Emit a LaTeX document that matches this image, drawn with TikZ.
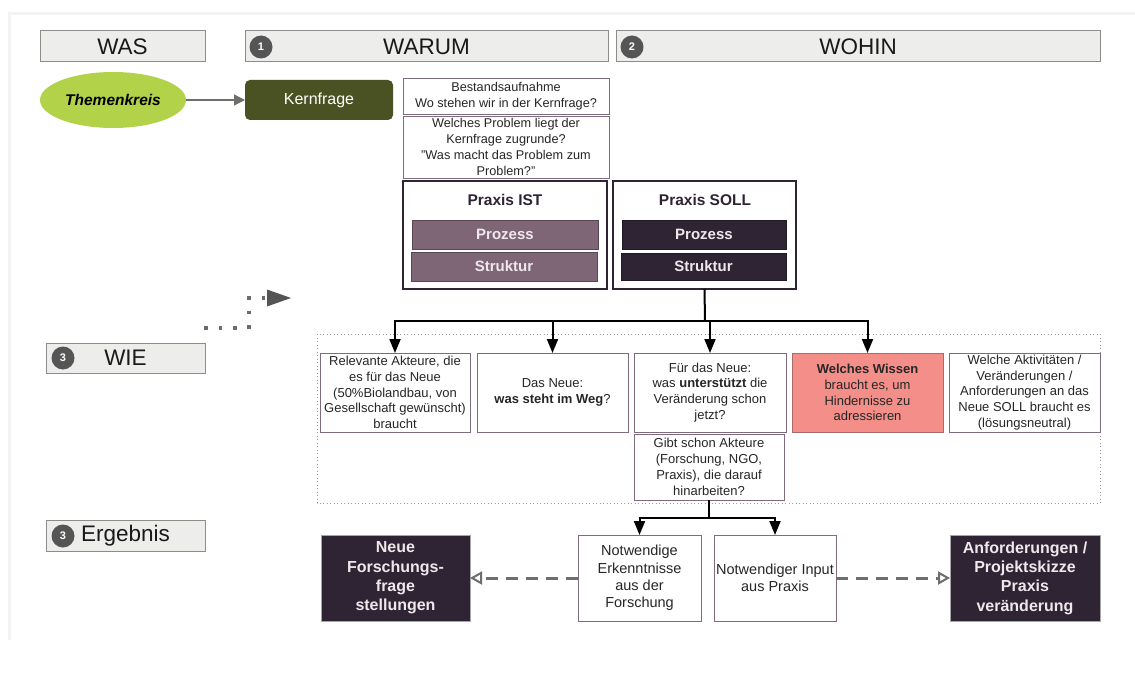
\documentclass[tikz,border=0pt]{standalone}
\usepackage{fontspec}
\setmainfont{Liberation Sans}
\usetikzlibrary{arrows.meta,shapes.geometric,calc}
\definecolor{hdrfill}{HTML}{EDEDEB}
\definecolor{hdrdraw}{HTML}{8C8C8A}
\definecolor{badge}{HTML}{555555}
\definecolor{lime}{HTML}{B2D24A}
\definecolor{olive}{HTML}{4A5224}
\definecolor{qdraw}{HTML}{7E6B7E}
\definecolor{dark}{HTML}{2F2433}
\definecolor{mauve}{HTML}{7F6677}
\definecolor{lighttext}{HTML}{EEE8EC}
\definecolor{redbox}{HTML}{F38E88}
\definecolor{reddraw}{HTML}{A86A6A}
\definecolor{dashgray}{HTML}{6E6E6A}
\definecolor{dotgray}{HTML}{9A9A9A}
\definecolor{faint}{HTML}{F3F3F3}
\newcommand\bx[7]{\node[#6, minimum width={(#4-#2)*1pt}, minimum height={(#5-#3)*1pt}] (#1) at ({(#2+#4)/2},{(#3+#5)/2}) {#7};}
\tikzset{
  every node/.style={inner sep=0pt, outer sep=0pt},
  hdr/.style={draw=hdrdraw, fill=hdrfill, line width=1pt, font=\fontsize{22.5}{26}\selectfont, text=black!90},
  badgestyle/.style={circle, fill=badge, minimum size=23pt, text=white, font=\fontsize{11}{12}\selectfont\bfseries},
  qbox/.style={draw=qdraw, fill=white, line width=0.9pt, align=center, font=\fontsize{12.7}{15.7}\selectfont, text=black!85},
  wbox/.style={draw=qdraw, fill=white, line width=0.9pt, align=center, font=\fontsize{13}{15.8}\selectfont, text=black!85},
  praxis/.style={draw=dark, fill=white, line width=2pt},
  ptitle/.style={font=\fontsize{15.5}{18}\selectfont\bfseries, text=dark},
  istbar/.style={fill=mauve, draw=mauve!70!black, line width=0.6pt, text=lighttext, font=\fontsize{15}{18}\selectfont\bfseries},
  sollbar/.style={fill=dark, draw=dark!70!black, line width=0.6pt, text=lighttext, font=\fontsize{15}{18}\selectfont\bfseries},
  darkbox/.style={fill=dark, draw=gray!70, line width=0.8pt, align=center, text=lighttext, font=\fontsize{16}{19.3}\selectfont\bfseries},
  nbox/.style={draw=qdraw, fill=white, line width=0.9pt, align=center, font=\fontsize{14.5}{17.3}\selectfont, text=black!85},
  arr/.style={line width=2pt, draw=black, -{Triangle[width=11pt,length=14pt]}},
  plain/.style={line width=2pt, draw=black},
  dasharr/.style={line width=3pt, draw=dashgray, dash pattern=on 12pt off 8pt, -{Triangle[open, width=13pt, length=12pt, line width=2pt]}},
}
\begin{document}
\begin{tikzpicture}[x=1pt,y=-1pt]
\useasboundingbox (0,0) rectangle (1135,695);
\fill[white] (0,0) rectangle (1135,695);
% faint slide edge
\draw[faint, line width=3pt] (9,640) -- (9,14) -- (1135,14);

% headers
\bx{was}{40}{31}{205}{62}{hdr}{WAS}
\bx{warum}{245}{31}{608}{62}{hdr}{WARUM}
\bx{wohin}{616}{31}{1100}{62}{hdr}{WOHIN}
\node[badgestyle] (b1) at (261,47) {1};
\node[badgestyle] (b2) at (632,47) {2};
\bx{wie}{46}{343}{205}{373}{hdr}{WIE}
\node[badgestyle] (b3) at (63,358) {3};
\bx{erg}{46}{520}{205}{551}{hdr}{Ergebnis}
\node[badgestyle] (b4) at (63,536) {3};

% Themenkreis and Kernfrage
\node[ellipse, fill=lime, minimum width=146pt, minimum height=56pt, font=\fontsize{15.5}{18}\selectfont\bfseries\itshape] (themen) at (113,100) {Themenkreis};
\bx{kern}{245}{80}{393}{120}{fill=olive, rounded corners=5pt, text=white, font=\fontsize{16}{19}\selectfont}{Kernfrage}
\draw[dashgray, line width=1.2pt, -{Triangle[width=11pt,length=11pt]}] (themen.east) -- (kern.west);

% question boxes
\bx{q1}{403}{78}{609}{114}{qbox}{Bestandsaufnahme\\Wo stehen wir in der Kernfrage?}
\bx{q2}{403}{116}{609}{178}{qbox}{Welches Problem liegt der\\Kernfrage zugrunde?\\"Was macht das Problem zum\\Problem?"}

% Praxis IST / SOLL
\bx{ist}{403}{181}{607}{289}{praxis}{}
\node[ptitle] (isttitle) at (505,200) {Praxis IST};
\bx{istproz}{412}{220}{598}{249}{istbar}{Prozess}
\bx{iststr}{411}{252}{597}{281}{istbar}{Struktur}
\bx{soll}{613}{181}{796}{289}{praxis}{}
\node[ptitle] (solltitle) at (705,200) {Praxis SOLL};
\bx{sollproz}{622}{220}{786}{249}{sollbar}{Prozess}
\bx{sollstr}{621}{253}{786}{280}{sollbar}{Struktur}

% dotted elbow arrow
\coordinate (d0) at (206,328);
\coordinate (d1) at (249,328);
\coordinate (d2) at (249,298);
\coordinate (d3) at (291,298);
\draw[dotgray!70!black, line width=3.5pt, dash pattern=on 0.1pt off 14.5pt, line cap=rect] (d0) -- (d1) -- (d2) -- (267,298);
\fill[badge] (267,289.5) -- (d3) -- (267,306.5) -- cycle;

% WIE area
\draw[dotgray, line width=1pt, dash pattern=on 1pt off 2.5pt] (317,334) rectangle (1100,503);
\bx{a}{320}{353}{470}{432}{wbox}{Relevante Akteure, die\\es für das Neue\\(50\%Biolandbau, von\\Gesellschaft gewünscht)\\braucht}
\bx{b}{477}{353}{628}{432}{wbox}{Das Neue:\\\textbf{was steht im Weg}?}
\bx{c}{634}{353}{786}{432}{wbox}{Für das Neue:\\was \textbf{unterstützt} die\\Veränderung schon\\jetzt?}
\bx{d}{792}{353}{943}{432}{wbox, fill=redbox, draw=reddraw}{\textbf{Welches Wissen}\\braucht es, um\\Hindernisse zu\\adressieren}
\bx{e}{949}{353}{1100}{432}{wbox}{Welche Aktivitäten /\\Veränderungen /\\Anforderungen an das\\Neue SOLL braucht es\\(lösungsneutral)}
\bx{f}{634}{434}{784}{500}{wbox}{Gibt schon Akteure\\(Forschung, NGO,\\Praxis), die darauf\\hinarbeiten?}

% fork from SOLL
\coordinate (bus) at (705,321);
\draw[plain] (soll.south) -- (bus);
\draw[arr] (bus) -| (a.north);
\draw[arr] (bus) -| (b.north);
\draw[arr] (bus) -| (c.north);
\draw[arr] (bus) -| (d.north);

% bottom row
\bx{neue}{321}{535}{470}{621}{darkbox}{Neue\\Forschungs-\\frage\\stellungen}
\bx{n1}{578}{535}{701}{621}{nbox}{Notwendige\\Erkenntnisse\\aus der\\Forschung}
\bx{n2}{714}{535}{836}{621}{nbox}{Notwendiger Input\\aus Praxis}
\bx{anf}{950}{535}{1100}{621}{darkbox}{Anforderungen /\\Projektskizze\\Praxis\\veränderung}

\coordinate (bus2) at (709,518);
\draw[plain] (f.south) -- (bus2);
\draw[arr] (bus2) -| (n1.north);
\draw[arr] (bus2) -| (n2.north);

\draw[dasharr] (n1.west) -- (neue.east);
\draw[dasharr] (n2.east) -- (anf.west);
\end{tikzpicture}
\end{document}
